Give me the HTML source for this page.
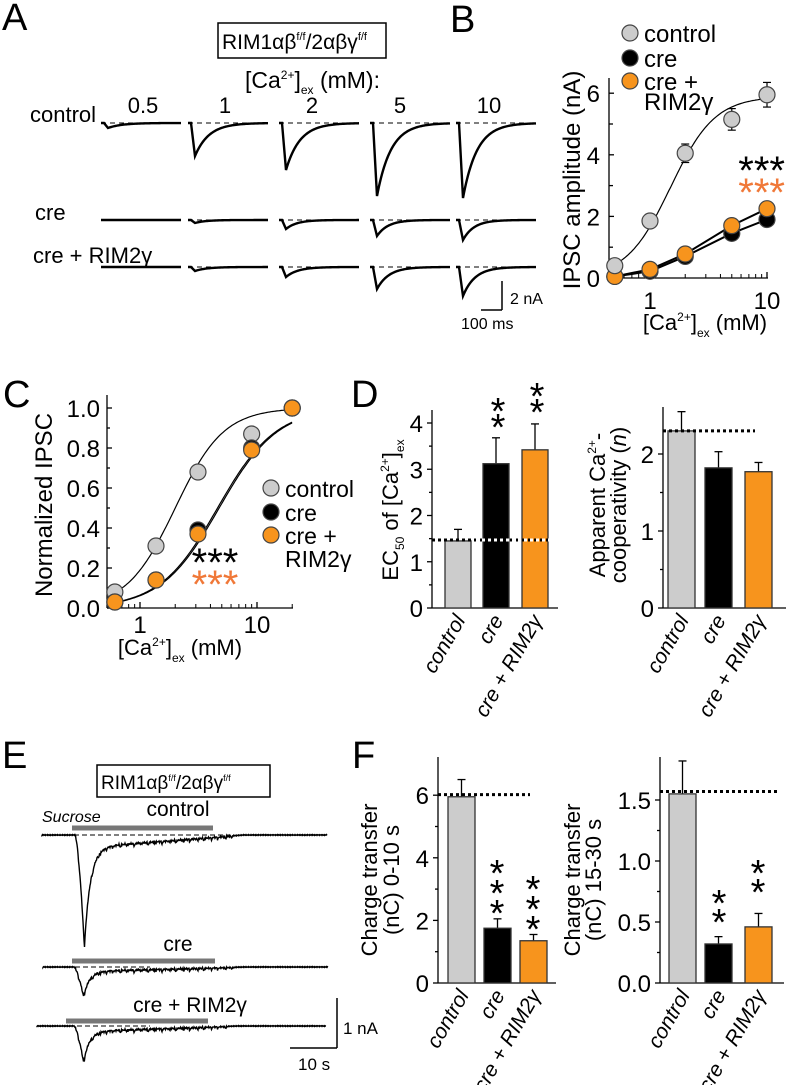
<!DOCTYPE html>
<html><head><meta charset="utf-8"><style>
html,body{margin:0;padding:0;background:#fff;}
svg{display:block;font-family:"Liberation Sans",sans-serif;}
</style></head><body>
<svg id="fig" width="786" height="1085" viewBox="0 0 786 1085" xmlns="http://www.w3.org/2000/svg">
<g id="root"></g>
</svg>
<script>
// ---------- data ----------
const concA = ["0.5","1","2","5","10"];
const ampControlA = [5, 33, 47, 73, 75];
const ampCreA = [0, 3, 9, 16, 20];
const ampRimA = [0, 4, 10, 22, 29];

const concB = [0.5, 1, 2, 5, 10];
const controlB = [0.4, 1.85, 4.05, 5.15, 5.95];
const controlErrB = [0.1, 0.1, 0.3, 0.35, 0.4];
const creB = [0.05, 0.22, 0.7, 1.45, 1.9];
const rimB = [0.05, 0.28, 0.78, 1.7, 2.25];
const yTicksB = [0, 2, 4, 6];

const concC = [0.61, 1.37, 3.13, 9.0, 20];
const controlC = [0.08, 0.31, 0.68, 0.87, 1.0];
const creC = [0.03, 0.14, 0.39, 0.8, 1.0];
const rimC = [0.03, 0.14, 0.37, 0.79, 1.0];
const yTicksC = ["0.0","0.2","0.4","0.6","0.8","1.0"];

const groups = ["control","cre","cre + RIM2\u03b3"];
const ec50 = [1.45, 3.12, 3.42];
const ec50Err = [0.25, 0.56, 0.56];
const coop = [2.3, 1.82, 1.77];
const coopErr = [0.25, 0.21, 0.12];
const charge010 = [5.95, 1.75, 1.35];
const charge010Err = [0.55, 0.3, 0.2];
const charge1530 = [1.55, 0.32, 0.46];
const charge1530Err = [0.27, 0.06, 0.11];

const NS = "http://www.w3.org/2000/svg";
const root = document.getElementById('root');
function el(tag, attrs, parent, text){
  const e = document.createElementNS(NS, tag);
  for (const k in attrs) e.setAttribute(k, attrs[k]);
  if (text !== undefined) e.textContent = text;
  (parent||root).appendChild(e);
  return e;
}
function line(x1,y1,x2,y2,extra,p){return el('line',Object.assign({x1,y1,x2,y2,stroke:'#000','stroke-width':1.3},extra||{}),p);}
function htmlText(x,y,html,size,extra,p){
  const t = el('text',Object.assign({x,y,'font-size':size},extra||{}),p);
  t.innerHTML = html; return t;
}
const fills = ['#cccccc','#000000','#f7941d'];
const ORANGE_STAR = '#f07838';

// ---------- panel labels ----------
[["A",2,30],["B",450,32],["C",3,407],["D",351,407],["E",2,768],["F",352,768]].forEach(([l,x,y])=>{
  const t = htmlText(x,y,l,38);
  
  
});

// ---------- Panel A ----------
const gA = el('g',{});


const boxA = el('rect',{x:218,y:23,width:168,height:35,fill:'none',stroke:'#000','stroke-width':1.5},gA);


htmlText(222,49,'RIM1\u03b1\u03b2<tspan font-size="11" dy="-9">f/f</tspan><tspan dy="9">/2\u03b1\u03b2\u03b3</tspan><tspan font-size="11" dy="-9">f/f</tspan>',21,{},gA);
htmlText(245,88,'[Ca<tspan font-size="12" dy="-9">2+</tspan><tspan dy="9">]</tspan><tspan font-size="12" dy="6">ex</tspan><tspan dy="-6"> (mM):</tspan>',23,{},gA);
htmlText(30,122,'control',22,{},gA);
htmlText(35,220,'cre',22,{},gA);
htmlText(33,263,'cre + RIM2\u03b3',22,{},gA);
const colX = [101,188,279,370,456];
const colLabX = [143,225,312,400,489];
const segW = 80;
function trace(x0, base, amp, tau, p){
  let d = `M${x0},${base}`;
  const t0 = x0+3;
  d += ` L${t0},${base}`;
  const rise = 4;
  d += ` L${t0+rise},${base+amp}`;
  for (let i=1;i<=segW-rise-3;i++){
    const v = base + amp*Math.exp(-i/tau);
    d += ` L${t0+rise+i},${v.toFixed(2)}`;
  }
  el('path',{d,fill:'none',stroke:'#000','stroke-width':2.4},p);
  el('line',{x1:x0,y1:base,x2:x0+segW,y2:base,stroke:'#000','stroke-width':1,'stroke-dasharray':'5,4'},p);
}
concA.forEach((c,i)=>{
  htmlText(colLabX[i],113,c,22,{'text-anchor':'middle'},gA);
  trace(colX[i],123,ampControlA[i],14,gA);
  trace(colX[i],220,ampCreA[i],11,gA);
  trace(colX[i],267,ampRimA[i],12,gA);
});
line(502,281,502,310,{'stroke-width':1.5},gA);
line(481,310,502,310,{'stroke-width':1.5},gA);
htmlText(510,304,'2 nA',16,{},gA);
htmlText(461,329,'100 ms',16,{},gA);

// ---------- Panel B ----------
const gB = el('g',{});


const bx = v => 650 + 117*Math.log10(v);
const by = v => 278 - 30.8*v;
line(609,78,609,278,{},gB);
line(609,278,768,278,{},gB);
yTicksB.forEach(t=>{ line(609,by(t),614,by(t),{},gB); htmlText(600,by(t)+9,t,24,{'text-anchor':'end'},gB);});
[1,3,5].forEach(t=>line(609,by(t),613,by(t),{},gB));
[0.6,0.7,0.8,0.9,2,3,4,5,6,7,8,9].forEach(v=>line(bx(v),278,bx(v),274,{'stroke-width':1},gB));
[1,10].forEach(v=>{ line(bx(v),278,bx(v),272,{},gB); htmlText(bx(v),309,v,24,{'text-anchor':'middle'},gB);});
htmlText(705,330,'[Ca<tspan font-size="12" dy="-9">2+</tspan><tspan dy="9">]</tspan><tspan font-size="12" dy="7">ex</tspan><tspan dy="-7"> (mM)</tspan>',22,{'text-anchor':'middle'},gB);
htmlText(0,0,'IPSC amplitude (nA)',24,{transform:'translate(580,180) rotate(-90)','text-anchor':'middle'},gB);
let dB='';
for(let v=0.5; v<=10.01; v*=1.03){ const y=5.9*Math.pow(v,2.3)/(Math.pow(v,2.3)+Math.pow(1.5,2.3)); dB += (dB?' L':'M')+bx(v).toFixed(1)+','+by(y).toFixed(1);}
el('path',{d:dB,fill:'none',stroke:'#000','stroke-width':1.2},gB);
el('polyline',{points:concB.map((c,i)=>bx(c)+','+by(creB[i])).join(' '),fill:'none',stroke:'#000','stroke-width':2},gB);
el('polyline',{points:concB.map((c,i)=>bx(c)+','+by(rimB[i])).join(' '),fill:'none',stroke:'#000','stroke-width':2},gB);
concB.forEach((c,i)=>{
  line(bx(c),by(controlB[i]-controlErrB[i]),bx(c),by(controlB[i]+controlErrB[i]),{'stroke-width':1.2},gB);
  line(bx(c)-4,by(controlB[i]+controlErrB[i]),bx(c)+4,by(controlB[i]+controlErrB[i]),{'stroke-width':1.2},gB);
  line(bx(c)-4,by(controlB[i]-controlErrB[i]),bx(c)+4,by(controlB[i]-controlErrB[i]),{'stroke-width':1.2},gB);
});
function dot(x,y,fill,p,name){
  const c = el('circle',{cx:x,cy:y,r:8,fill,stroke:'#444','stroke-width':1.2},p);
  
  
}
concB.forEach((c,i)=>dot(bx(c),by(creB[i]),fills[1],gB,'point-cre'));
concB.forEach((c,i)=>dot(bx(c),by(rimB[i]),fills[2],gB,'point-cre-rim2g'));
concB.forEach((c,i)=>dot(bx(c),by(controlB[i]),fills[0],gB,'point-control'));
[['control',33],['cre',58],['cre +',81]].forEach(([l,y],i)=>{ dot(630,y,fills[i],gB,'legend-marker'); htmlText(644,y+9,l,24,{},gB);});
htmlText(644,110,'RIM2\u03b3',24,{},gB);
htmlText(785,184,'***',40,{'text-anchor':'end'},gB);
htmlText(785,206,'***',40,{'text-anchor':'end',fill:ORANGE_STAR},gB);

// ---------- Panel C ----------
const gC = el('g',{});


const cx = v => 140 + 117*Math.log10(v);
const cy = v => 608 - 200*v;
line(107,395,107,608,{},gC);
line(107,608,293,608,{},gC);
yTicksC.forEach(t=>{ const v=parseFloat(t); line(107,cy(v),112,cy(v),{},gC); htmlText(100,cy(v)+9,t,24,{'text-anchor':'end'},gC);});
[0.1,0.3,0.5,0.7,0.9].forEach(v=>line(107,cy(v),110,cy(v),{},gC));
[0.7,0.8,0.9,2,3,4,5,6,7,8,9,20].forEach(v=>line(cx(v),608,cx(v),604,{'stroke-width':1},gC));
[1,10].forEach(v=>{ line(cx(v),608,cx(v),602,{},gC); htmlText(cx(v),633,v,24,{'text-anchor':'middle'},gC);});
htmlText(180,655,'[Ca<tspan font-size="12" dy="-9">2+</tspan><tspan dy="9">]</tspan><tspan font-size="12" dy="7">ex</tspan><tspan dy="-7"> (mM)</tspan>',22,{'text-anchor':'middle'},gC);
htmlText(0,0,'Normalized IPSC',24,{transform:'translate(52,505) rotate(-90)','text-anchor':'middle'},gC);
function hillPath(ec,n){let d='';for(let v=0.61;v<=20.01;v*=1.03){const y=Math.pow(v,n)/(Math.pow(v,n)+Math.pow(ec,n));d+=(d?' L':'M')+cx(v).toFixed(1)+','+cy(y).toFixed(1);}return d;}
el('path',{d:hillPath(2.0,2.1),fill:'none',stroke:'#000','stroke-width':1.2},gC);
el('path',{d:hillPath(4.6,1.75),fill:'none',stroke:'#000','stroke-width':1.2},gC);
el('path',{d:hillPath(4.75,1.75),fill:'none',stroke:'#000','stroke-width':1.2},gC);
concC.forEach((c,i)=>dot(cx(c),cy(controlC[i]),fills[0],gC,'point-control'));
concC.forEach((c,i)=>dot(cx(c),cy(creC[i]),fills[1],gC,'point-cre'));
concC.forEach((c,i)=>dot(cx(c),cy(rimC[i]),fills[2],gC,'point-cre-rim2g'));
[['control',488],['cre',512],['cre +',535]].forEach(([l,y],i)=>{ dot(271,y,fills[i],gC,'legend-marker'); htmlText(285,y+9,l,23,{},gC);});
htmlText(285,567,'RIM2\u03b3',23,{},gC);
htmlText(215,576,'***',40,{'text-anchor':'middle'},gC);
htmlText(215,598,'***',40,{'text-anchor':'middle',fill:ORANGE_STAR},gC);

// ---------- bar chart helper ----------
function barChart(opts){
  const g = el('g',{});
  
  
  const Y = v => opts.y0 - opts.scale*v;
  line(opts.ax,opts.top,opts.ax,opts.y0,{},g);
  line(opts.ax,opts.y0,opts.ax+opts.len,opts.y0,{},g);
  opts.ticks.forEach(t=>{ line(opts.ax-5,Y(+t),opts.ax,Y(+t),{},g); htmlText(opts.ax-9,Y(+t)+9,t,24,{'text-anchor':'end'},g);});
  opts.minor.forEach(t=>line(opts.ax-3,Y(t),opts.ax,Y(t),{},g));
  opts.vals.forEach((v,i)=>{
    const x = opts.bx[i];
    line(x+opts.bw/2,Y(v),x+opts.bw/2,Y(v+opts.errs[i]),{'stroke-width':1.3},g);
    line(x+opts.bw/2-4,Y(v+opts.errs[i]),x+opts.bw/2+4,Y(v+opts.errs[i]),{'stroke-width':1.3},g);
    const r = el('rect',{x,y:Y(v),width:opts.bw,height:opts.y0-Y(v),fill:fills[i],stroke:'#333','stroke-width':1.3},g);
    
    
    htmlText(0,0,groups[i],21,{'text-anchor':'end','font-style':'italic',transform:`translate(${x+opts.bw/2+8},${opts.y0+12}) rotate(-60)`},g);
  });
  el('line',{x1:opts.ax,y1:Y(opts.ref),x2:opts.refEnd,y2:Y(opts.ref),stroke:'#000','stroke-width':3,'stroke-dasharray':'3,3'},g);
  if(opts.refWhite) el('line',{x1:opts.bx[0]+opts.bw+2,y1:Y(opts.ref),x2:opts.refEnd,y2:Y(opts.ref),stroke:'#fff','stroke-width':3,'stroke-dasharray':'3,3','stroke-dashoffset':3},g);
  opts.stars.forEach(s=>htmlText(s[0],s[1],s[2],s[3],{'text-anchor':'middle'},g));
  opts.ylabels.forEach(l=>htmlText(0,0,l[2],22,{transform:`translate(${l[0]},${l[1]}) rotate(-90)`,'text-anchor':'middle'},g));
  return g;
}
barChart({name:'panel-d-ec50-chart',ax:432,top:410,y0:608,scale:46.25,len:126,ticks:['0','1','2','3','4'],minor:[0.5,1.5,2.5,3.5],
  vals:ec50,errs:ec50Err,bx:[445,483,522],bw:26,ref:1.47,refEnd:550,refWhite:true,
  stars:[[498,424,'*',38],[498,440,'*',38],[537,409,'*',38],[537,425,'*',38]],
  ylabels:[[398,510,'EC<tspan font-size="12" dy="6">50</tspan><tspan dy="-6"> of [Ca</tspan><tspan font-size="12" dy="-9">2+</tspan><tspan dy="9">]</tspan><tspan font-size="12" dy="6">ex</tspan>']]});
barChart({name:'panel-d-cooperativity-chart',ax:663,top:407,y0:608,scale:77,len:123,ticks:['0','1','2'],minor:[0.5,1.5],
  vals:coop,errs:coopErr,bx:[668,705,745],bw:27,ref:2.3,refEnd:755,
  stars:[],
  ylabels:[[605,505,'Apparent Ca<tspan font-size="12" dy="-9">2+</tspan><tspan dy="9">-</tspan>'],[626,505,'cooperativity (<tspan font-style="italic">n</tspan>)']]});
barChart({name:'panel-f-charge-0-10-chart',ax:438,top:757,y0:983,scale:31.3,len:118,ticks:['0','2','4','6'],minor:[1,3,5],
  vals:charge010,errs:charge010Err,bx:[448,484,520],bw:27,ref:6.02,refEnd:530,
  stars:[[497,886,'*',38],[497,906,'*',38],[497,926,'*',38],[533,902,'*',38],[533,922,'*',38],[533,942,'*',38]],
  ylabels:[[377,880,'Charge transfer'],[399,880,'(nC) 0-10 s']]});
barChart({name:'panel-f-charge-15-30-chart',ax:660,top:757,y0:983,scale:122,len:124,ticks:['0.0','0.5','1.0','1.5'],minor:[0.25,0.75,1.25],
  vals:charge1530,errs:charge1530Err,bx:[669,705,745],bw:27,ref:1.57,refEnd:778,
  stars:[[719,916,'*',38],[719,935,'*',38],[758,886,'*',38],[758,905,'*',38]],
  ylabels:[[580,880,'Charge transfer'],[601,880,'(nC) 15-30 s']]});

// ---------- Panel E ----------
const gE = el('g',{});


el('rect',{x:97,y:765,width:173,height:32,fill:'none',stroke:'#000','stroke-width':1.5},gE);
htmlText(101,789,'RIM1\u03b1\u03b2<tspan font-size="9" dy="-8">f/f</tspan><tspan dy="8">/2\u03b1\u03b2\u03b3</tspan><tspan font-size="9" dy="-8">f/f</tspan>',19,{},gE);
htmlText(42,822,'Sucrose',16,{'font-style':'italic'},gE);
htmlText(178,816,'control',21,{'text-anchor':'middle'},gE);
htmlText(178,951,'cre',21,{'text-anchor':'middle'},gE);
htmlText(190,1012,'cre + RIM2\u03b3',21,{'text-anchor':'middle'},gE);
function sucTrace(x0,x1,base,bar0,bar1,barY,peakX,peak,tail,dashEnd){
  el('rect',{x:bar0,y:barY-2.5,width:bar1-bar0,height:5,fill:'#777'},gE);
  el('line',{x1:x0,y1:base,x2:dashEnd,y2:base,stroke:'#000','stroke-width':1,'stroke-dasharray':'5,3'},gE);
  let d=`M${x0},${base}`;
  for(let x=x0;x<=x1;x+=0.5){
    let v=0;
    const onset=peakX-9;
    if(x>onset && x<=peakX) v=peak*Math.pow((x-onset)/9,1.6);
    else if(x>peakX){ v=peak*Math.exp(-(x-peakX)/6) + tail*Math.max(0,1-(x-peakX)/(bar1-peakX+30)); }
    const n = (x>onset && x<bar1+20)? (Math.sin(x*7.3)*Math.sin(x*2.1)+Math.abs(Math.sin(x*13.7))*(Math.sin(x*0.9)>0.6?2.5:0.5))*Math.min(1,v/3+0.6) : Math.sin(x*5)*0.4;
    d+=` L${x},${(base+v+n).toFixed(1)}`;
  }
  el('path',{d,fill:'none',stroke:'#000','stroke-width':1.4},gE);
}
sucTrace(42,327,835,72,213,828,84,105,12,230);
sucTrace(43,328,967,72,215,961,83,27,4,150);
sucTrace(37,326,1026,66,208,1021,83,33,5,150);
line(337,998,337,1048,{'stroke-width':1.5},gE);
line(290,1048,337,1048,{'stroke-width':1.5},gE);
htmlText(343,1034,'1 nA',17,{},gE);
htmlText(298,1070,'10 s',17,{},gE);
</script>
</body></html>
